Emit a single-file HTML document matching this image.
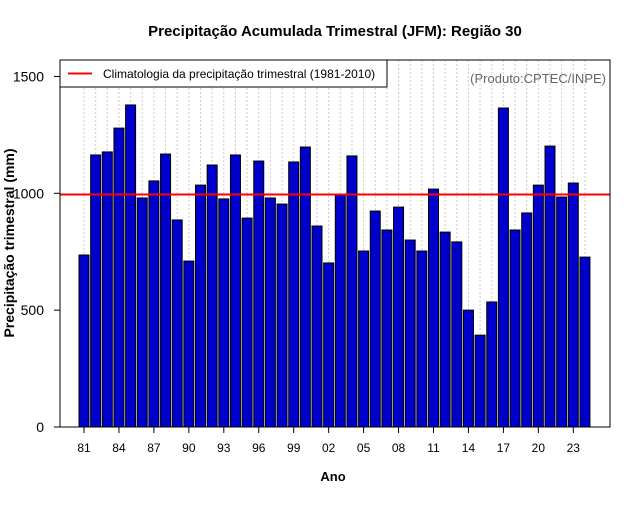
<!DOCTYPE html>
<html><head><meta charset="utf-8"><style>
body{margin:0;background:#fff}
svg text{font-family:"Liberation Sans",sans-serif}
</style></head><body>
<svg id="c" width="640" height="500">
<text x="335" y="36" text-anchor="middle" font-size="15" font-weight="bold">Precipitação Acumulada Trimestral (JFM): Região 30</text>
<text x="333" y="481" text-anchor="middle" font-size="13" font-weight="bold">Ano</text>
<text transform="translate(14,243) rotate(-90)" text-anchor="middle" font-size="14" font-weight="bold">Precipitação trimestral (mm)</text>
<g id="grid"></g><g id="bars"></g><g id="axes"></g>
<line id="clim" x1="60" x2="610" stroke="#ff0000" stroke-width="2"/>
<rect x="60" y="60" width="550" height="367" fill="none" stroke="#000"/>
<g>
<rect x="60" y="60" width="327" height="27" fill="#fff" stroke="#000"/>
<line x1="68" x2="92" y1="73.5" y2="73.5" stroke="#ff0000" stroke-width="2"/>
<text x="103" y="78" font-size="12">Climatologia da precipitação trimestral (1981-2010)</text>
</g>
<text x="606" y="83" text-anchor="end" font-size="13" fill="#666">(Produto:CPTEC/INPE)</text>
</svg>
<script>
const years=[81,82,83,84,85,86,87,88,89,90,91,92,93,94,95,96,97,98,99,0,1,2,3,4,5,6,7,8,9,10,11,12,13,14,15,16,17,18,19,20,21,22,23,24];
const values=[736,1164,1177,1279,1378,980,1053,1168,886,710,1035,1121,976,1164,894,1138,980,954,1134,1198,860,702,993,1160,753,924,843,941,800,753,1018,834,792,500,393,535,1365,843,916,1035,1202,984,1044,727];
const climatology=995;
const yTicks=[0,500,1000,1500];
const NS="http://www.w3.org/2000/svg";
const y=v=>427-v*0.2337;
const x=i=>84+i*11.65;
const g=document.getElementById('grid'),b=document.getElementById('bars'),a=document.getElementById('axes');
function mk(t,attrs,p){const e=document.createElementNS(NS,t);for(const k in attrs)e.setAttribute(k,attrs[k]);p.appendChild(e);return e;}
values.forEach((v,i)=>{
 const gl=mk('line',{x1:x(i),x2:x(i),y1:60,y2:427,stroke:'#ccc','stroke-dasharray':'2,2'},g);
 
 
 const r=mk('rect',{x:x(i)-5,y:y(v),width:10,height:427-y(v),fill:'#0000cc',stroke:'#000','stroke-width':1},b);
 
 
 if(i%3===0){
  mk('line',{x1:x(i),x2:x(i),y1:427,y2:433,stroke:'#000'},a);
  const t=mk('text',{x:x(i),y:452,'text-anchor':'middle','font-size':12},a);
  t.textContent=String(years[i]).padStart(2,'0');
  
  
 }
});
yTicks.forEach(v=>{
 mk('line',{x1:54,x2:60,y1:y(v),y2:y(v),stroke:'#000'},a);
 const t=mk('text',{x:44,y:y(v)+5,'text-anchor':'end','font-size':14},a);
 t.textContent=v;
 
 
});
const c=document.getElementById('clim');c.setAttribute('y1',y(climatology));c.setAttribute('y2',y(climatology));
</script>
</body></html>
